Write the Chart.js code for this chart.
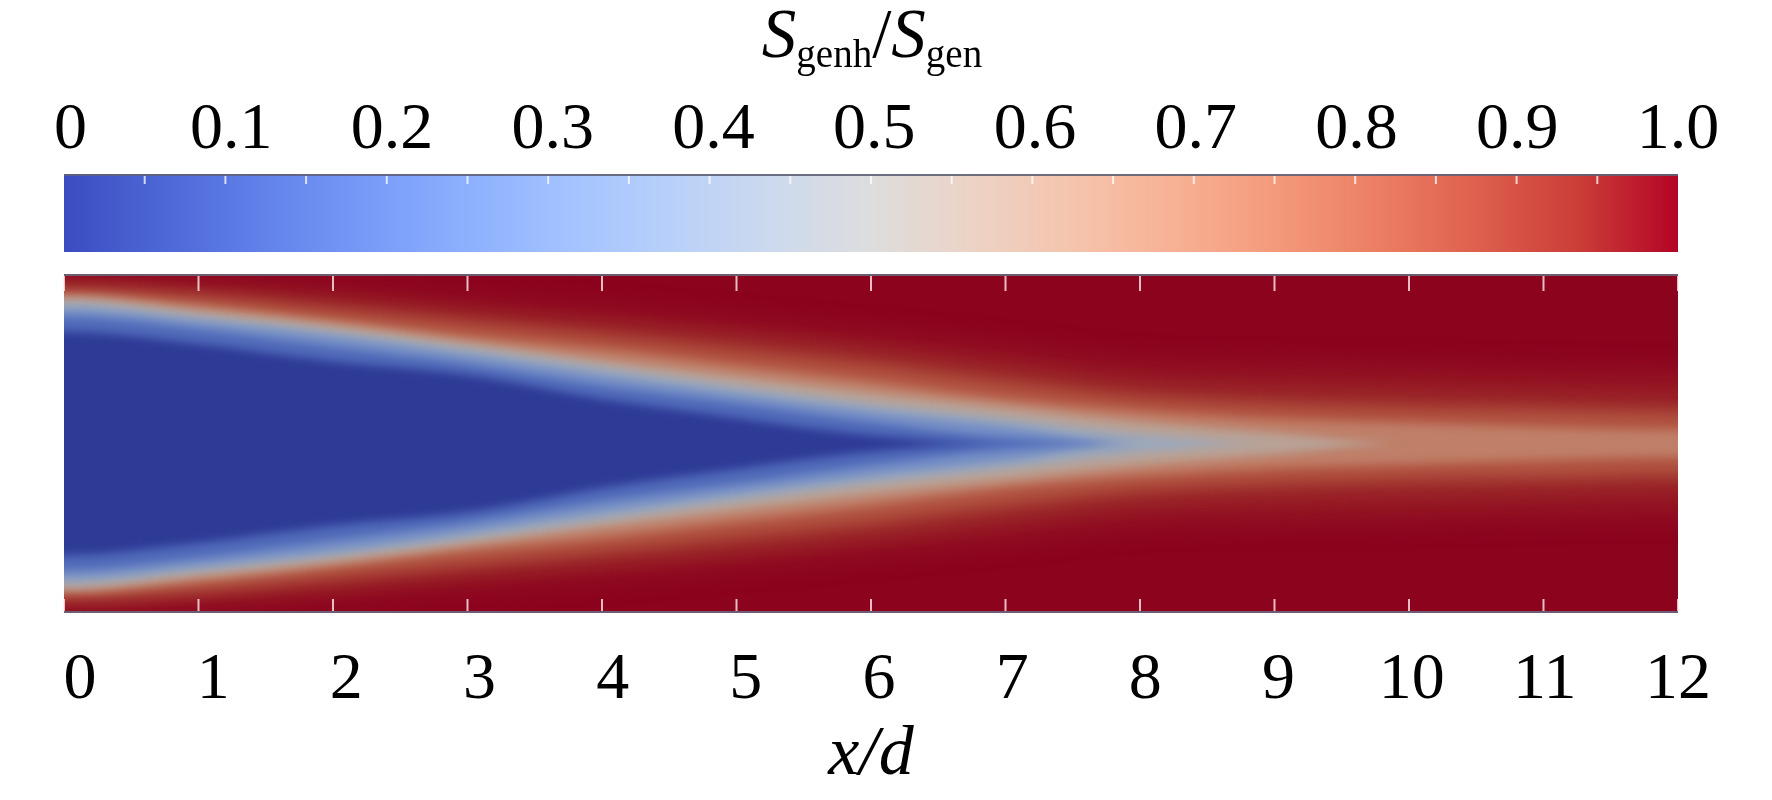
<!DOCTYPE html>
<html>
<head>
<meta charset="utf-8">
<title>Sgenh/Sgen</title>
<script src="https://cdn.jsdelivr.net/npm/chart.js@4.4.1/dist/chart.umd.min.js"></script>
<style>
	body { margin: 0; background: #fff; }
	#wrap { position: relative; width: 1772px; height: 800px; overflow: hidden; }
	#bar { position: absolute; left: 0; top: 0; width: 1772px; height: 262px; }
	#field { position: absolute; left: 0; top: 262px; width: 1772px; height: 538px; }
	#title {
		position: absolute; left: 0; top: 0; width: 1744px;
		text-align: center; white-space: nowrap; color: #000;
		font-family: 'Liberation Serif', 'Times New Roman', serif;
		font-size: 69px; line-height: 1;
	}
	#title i { font-style: italic; }
	#title span { font-size: 39px; vertical-align: -10px; }
</style>
</head>
<body>
<div id="wrap">
	<canvas id="bar" width="1772" height="262"></canvas>
	<canvas id="field" width="1772" height="538"></canvas>
	<div id="title"><i>S</i><span>genh</span>/<i>S</i><span>gen</span></div>
</div>
<script>
// colour bar
var barRange = [0, 1];
var barTicks = ['0', '0.1', '0.2', '0.3', '0.4', '0.5', '0.6', '0.7', '0.8', '0.9', '1.0'];

var xStations = [0, 1, 2, 3, 4, 5, 6, 7, 8, 9, 10, 11, 12];
var xTicks = ['0', '1', '2', '3', '4', '5', '6', '7', '8', '9', '10', '11', '12'];

// iso-levels of Sgenh/Sgen, outermost first
var levels = [0.985, 0.95, 0.9, 0.8, 0.65, 0.5, 0.35, 0.2, 0.08];

// half width (y/d, from the jet axis) of each iso-line at the stations
var edge985 = [1.21, 1.17, 1.12, 1.04, 0.97, 0.88, 0.79, 0.69, 0.58, 0.56, 0.54, 0.52, 0.51];
var edge95 = [1.17, 1.12, 1.04, 0.95, 0.86, 0.77, 0.66, 0.53, 0.41, 0.36, 0.34, 0.32, 0.30];
var edge90 = [1.14, 1.09, 0.99, 0.89, 0.79, 0.68, 0.57, 0.44, 0.33, 0.28, 0.25, 0.24, 0.22];
var edge80 = [1.11, 1.03, 0.92, 0.80, 0.70, 0.58, 0.46, 0.33, 0.24, 0.18, 0.15, 0.12, 0.10];
var edge65 = [1.08, 0.99, 0.88, 0.75, 0.62, 0.50, 0.38, 0.27, 0.16, 0.08, 0.00, 0.00, 0.00];
var edge50 = [1.05, 0.95, 0.84, 0.71, 0.57, 0.43, 0.30, 0.19, 0.07, 0.00, 0.00, 0.00, 0.00];
var edge35 = [1.00, 0.91, 0.80, 0.66, 0.51, 0.37, 0.24, 0.13, 0.00, 0.00, 0.00, 0.00, 0.00];
var edge20 = [0.94, 0.85, 0.72, 0.59, 0.43, 0.30, 0.16, 0.04, 0.00, 0.00, 0.00, 0.00, 0.00];
var edge08 = [0.83, 0.74, 0.61, 0.51, 0.33, 0.19, 0.06, 0.00, 0.00, 0.00, 0.00, 0.00, 0.00];
var edges = [edge985, edge95, edge90, edge80, edge65, edge50, edge35, edge20, edge08];

// smoothing per level (px), the outer red fades are broad
var levelBlur = [14, 10, 7, 5, 4, 4, 4, 4, 4];

// cool to warm map (position, r, g, b)
var coolwarm = [
	[0, 59, 76, 192], [0.0625, 77, 104, 215], [0.125, 98, 130, 234], [0.1875, 119, 154, 247],
	[0.25, 141, 176, 254], [0.3125, 163, 194, 255], [0.375, 184, 208, 249], [0.4375, 204, 217, 238],
	[0.5, 221, 221, 221], [0.5625, 236, 211, 197], [0.625, 245, 196, 173], [0.6875, 247, 177, 148],
	[0.75, 244, 154, 123], [0.8125, 236, 127, 99], [0.875, 222, 96, 77], [0.9375, 203, 62, 56],
	[1, 180, 4, 38]
];
var SHADE = 0.78; // the field is rendered lit, darker than the bar

Chart.defaults.font.family = "'Liberation Serif', 'Times New Roman', serif";
Chart.defaults.color = '#000';

function mapColor(v, shade) {
	var i = 1;
	while (i < coolwarm.length - 1 && coolwarm[i][0] < v) i++;
	var a = coolwarm[i - 1], b = coolwarm[i];
	var t = (v - a[0]) / (b[0] - a[0]);
	var c = [1, 2, 3].map(function (k) { return Math.round((a[k] + (b[k] - a[k]) * t) * shade); });
	return 'rgb(' + c.join(',') + ')';
}

var tickFont = { size: 66 };

// ---------- colour bar ----------
var barLook = {
	id: 'barLook',
	afterDatasetsDraw: function (chart) {
		var ctx = chart.ctx, a = chart.chartArea, x = chart.scales.x;
		var t = x.ticks;
		ctx.save();
		ctx.strokeStyle = 'rgba(95,98,120,0.9)';
		ctx.lineWidth = 2;
		ctx.beginPath();
		ctx.moveTo(a.left, a.top + 1);
		ctx.lineTo(a.right, a.top + 1);
		ctx.stroke();
		ctx.strokeStyle = 'rgba(255,255,255,0.75)';
		for (var i = 0; i < t.length - 1; i++) {
			var marks = [(t[i].value + t[i + 1].value) / 2];
			if (i > 0) marks.push(t[i].value);
			marks.forEach(function (v) {
				var px = x.getPixelForValue(v);
				ctx.beginPath();
				ctx.moveTo(px, a.top + 2);
				ctx.lineTo(px, a.top + 10);
				ctx.stroke();
			});
		}
		ctx.restore();
	}
};

new Chart(document.getElementById('bar'), {
	type: 'bar',
	data: {
		labels: [''],
		datasets: [{
			data: [barRange],
			xAxisID: 'x',
			borderWidth: 0,
			barPercentage: 1,
			categoryPercentage: 1,
			backgroundColor: function (c) {
				var a = c.chart.chartArea;
				if (!a) return 'transparent';
				var g = c.chart.ctx.createLinearGradient(a.left, 0, a.right, 0);
				coolwarm.forEach(function (s) {
					g.addColorStop(s[0], 'rgb(' + s[1] + ',' + s[2] + ',' + s[3] + ')');
				});
				return g;
			}
		}]
	},
	options: {
		indexAxis: 'y',
		responsive: false,
		animation: false,
		devicePixelRatio: 1,
		layout: { padding: { left: 64, right: 94, top: 0, bottom: 10 } },
		plugins: { legend: { display: false }, tooltip: { enabled: false } },
		scales: {
			x: {
				display: false,
				min: barRange[0],
				max: barRange[1],
				ticks: { stepSize: 0.1 }
			},
			// label axis, nudged like the original labels
			xl: {
				position: 'top',
				min: -0.004,
				max: barRange[1],
				grid: { display: false, drawTicks: false },
				border: { display: false },
				ticks: {
					stepSize: 0.1,
					includeBounds: false,
					autoSkip: false,
					maxRotation: 0,
					padding: 4,
					font: tickFont,
					callback: function (v, i) { return barTicks[i]; }
				},
				afterFit: function (s) { s.height = 174; }
			},
			y: { display: false }
		}
	},
	plugins: [barLook]
});

// ---------- field ----------
function toPoints(h, sign) {
	var pts = xStations.map(function (x, i) { return { x: x, y: sign * h[i] }; });
	// repeat the end stations just outside the frame so the smoothing does not fade there
	pts.unshift({ x: xStations[0] - 0.5, y: sign * h[0] });
	pts.push({ x: xStations[xStations.length - 1] + 0.5, y: sign * h[h.length - 1] });
	return pts;
}

var fieldSets = [];
for (var i = levels.length - 1; i >= 0; i--) {
	var inner = i + 1 < levels.length ? (levels[i] + levels[i + 1]) / 2 : 0;
	var common = {
		xAxisID: 'x',
		yAxisID: 'y',
		borderWidth: 0,
		borderColor: 'transparent',
		pointRadius: 0,
		cubicInterpolationMode: 'monotone',
		blur: levelBlur[i]
	};
	fieldSets.push(Object.assign({
		label: 'upper ' + levels[i],
		data: toPoints(edges[i], 1),
		fill: '+1',
		backgroundColor: mapColor(inner, SHADE)
	}, common));
	fieldSets.push(Object.assign({
		label: 'lower ' + levels[i],
		data: toPoints(edges[i], -1),
		fill: false
	}, common));
}

// datasets are painted from the last one to the first, so the blur of the
// next one is set once the previous one is done
var fieldLook = {
	id: 'fieldLook',
	beforeDatasetsDraw: function (chart) {
		var ctx = chart.ctx, a = chart.chartArea, ds = chart.data.datasets;
		ctx.save();
		ctx.fillStyle = mapColor(1, SHADE);
		ctx.fillRect(a.left, a.top, a.right - a.left, a.bottom - a.top);
		ctx.filter = 'blur(' + ds[ds.length - 1].blur + 'px)';
	},
	afterDatasetDraw: function (chart, args) {
		var next = chart.data.datasets[args.index - 1];
		if (next) chart.ctx.filter = 'blur(' + next.blur + 'px)';
	},
	afterDatasetsDraw: function (chart) {
		var ctx = chart.ctx, a = chart.chartArea, x = chart.scales.x;
		ctx.restore();
		ctx.save();
		// frame top / bottom
		ctx.strokeStyle = 'rgba(105,108,130,0.85)';
		ctx.lineWidth = 2;
		ctx.beginPath();
		ctx.moveTo(a.left, a.top + 1);
		ctx.lineTo(a.right, a.top + 1);
		ctx.moveTo(a.left, a.bottom - 1);
		ctx.lineTo(a.right, a.bottom - 1);
		ctx.stroke();
		// white inner tick marks
		ctx.strokeStyle = 'rgba(255,235,235,0.8)';
		x.ticks.forEach(function (t) {
			var px = x.getPixelForValue(t.value);
			ctx.beginPath();
			ctx.moveTo(px, a.top + 2);
			ctx.lineTo(px, a.top + 17);
			ctx.moveTo(px, a.bottom - 2);
			ctx.lineTo(px, a.bottom - 14);
			ctx.stroke();
		});
		ctx.restore();
	}
};

new Chart(document.getElementById('field'), {
	type: 'line',
	data: { datasets: fieldSets },
	options: {
		responsive: false,
		animation: false,
		devicePixelRatio: 1,
		layout: { padding: { left: 64, right: 94, top: 12, bottom: 0 } },
		plugins: {
			legend: { display: false },
			tooltip: { enabled: false },
			filler: { drawTime: 'beforeDatasetDraw', propagate: false }
		},
		scales: {
			x: {
				type: 'linear',
				display: false,
				min: 0,
				max: 12,
				ticks: { stepSize: 1 }
			},
			// label axis: the labels sit a little right of the marks, as in the original
			xl: {
				type: 'linear',
				position: 'bottom',
				min: -0.12,
				max: 12,
				grid: { display: false, drawTicks: false },
				border: { display: false },
				ticks: {
					stepSize: 1,
					includeBounds: false,
					autoSkip: false,
					maxRotation: 0,
					padding: 28,
					font: tickFont,
					callback: function (v, i) { return xTicks[i]; }
				},
				title: {
					display: true,
					text: 'x/d',
					font: { size: 70, style: 'italic' },
					padding: { top: 0, bottom: 2 }
				},
				afterFit: function (s) { s.height = 187; }
			},
			y: { type: 'linear', min: -1.26, max: 1.26, display: false }
		}
	},
	plugins: [fieldLook]
});
</script>
</body>
</html>
